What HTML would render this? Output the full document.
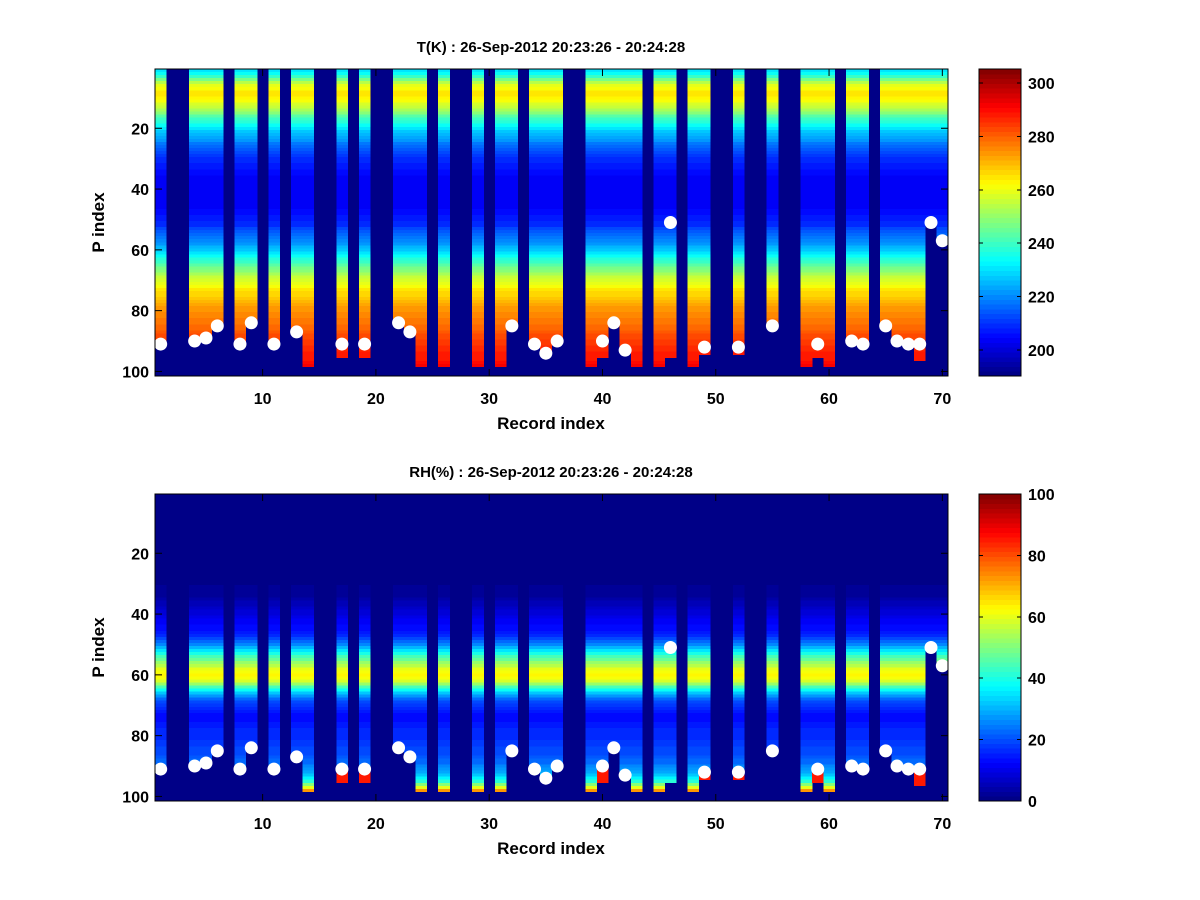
<!DOCTYPE html>
<html><head><meta charset="utf-8">
<style>
html,body{margin:0;padding:0;background:#fff;}
svg{display:block;font-family:"Liberation Sans",Arial,sans-serif;}
text{font-weight:bold;fill:#000;}
</style></head>
<body>
<svg id="fig" width="1200" height="900" viewBox="0 0 1200 900">
<rect width="1200" height="900" fill="#fff"/>
</svg>
<script>
// ---- data ----
const columns = [1,4,5,6,8,9,11,13,14,17,19,22,23,24,26,29,31,32,34,35,36,39,40,41,42,43,45,46,48,49,52,55,58,59,60,62,63,65,66,67,68,69,70];
const bottoms = [91,90,89,85,91,84,91,87,98,95,95,84,87,98,98,98,98,85,91,94,90,98,95,84,93,98,98,95,98,94,94,85,98,95,98,90,91,85,90,91,96,51,57];
const surfaceCols = [1,4,5,6,8,9,11,13,17,19,22,23,32,34,35,36,40,41,42,46,49,52,55,59,62,63,65,66,67,68,69,70];
const surfaceIdx = [91,90,89,85,91,84,91,87,91,91,84,87,85,91,94,90,90,84,93,51,92,92,85,91,90,91,85,90,91,91,51,57];
const tProfile = [230,234,240,247,254,259,262,264,264,263,
261,258,255,252,248,244,240,237,234,231,
228,225,223,221,219,217,215,213,211,210,
209,208,207,206,205,204,204,203,203,203,
203,203,203,203,204,204,205,206,207,208,
209,210,212,214,216,218,220,222,225,228,
231,234,237,240,243,246,249,252,255,258,
260,262,264,266,267,269,270,272,273,274,
275,276,277,278,279,280,281,282,283,284,
285,286,287,288,288,289,290,291,292,293];
const rhProfile = [1,1,1,1,1,1,1,1,1,1,1,1,1,1,1,1,1,1,1,1,1,1,1,1,1,1,1,1,1,1,
2,2,3,3,4,5,6,7,8,9,
10,11,12,13,14,15,17,19,22,26,
30,35,40,44,48,52,56,60,62,63,
62,58,52,45,38,32,27,23,20,18,
16,15,14,14,14,15,15,16,16,17,
17,18,18,19,19,20,21,22,23,25,
27,29,32,36,42,50,60,72,84,92];
const xTicks = [10,20,30,40,50,60,70];
const yTicks = [20,40,60,80,100];
const tBarTicks = [200,220,240,260,280,300];
const rhBarTicks = [0,20,40,60,80,100];

const NS = "http://www.w3.org/2000/svg";
const svg = document.getElementById('fig');
function mk(tag, attrs, parent){const e=document.createElementNS(NS,tag);for(const k in attrs)e.setAttribute(k,attrs[k]);(parent||svg).appendChild(e);return e;}

function jet(v){
  let i=Math.min(63,Math.max(0,Math.floor(v*64)));
  const x=(i+0.5)/64;
  const f=t=>Math.max(0,Math.min(1,t));
  const r=f(1.5-Math.abs(4*x-3)), g=f(1.5-Math.abs(4*x-2)), b=f(1.5-Math.abs(4*x-1));
  return `rgb(${Math.round(r*255)},${Math.round(g*255)},${Math.round(b*255)})`;
}

function panel(opts){
  const L=155,R=948,T=opts.top,B=opts.top+307;
  const xs=v=>L+(v-0.5)/70*(R-L);
  const ys=v=>T+(v-0.5)/101*(B-T);
  const g=mk('g',{'shape-rendering':'crispEdges'});
  
  
  const bg=mk('rect',{x:L,y:T,width:R-L,height:B-T,fill:jet(0)},g);
  
  
  const norm=v=>(v-opts.cmin)/(opts.cmax-opts.cmin);
  columns.forEach((c,ci)=>{
    const b=bottoms[ci];
    const si=surfaceCols.indexOf(c);
    const s=si>=0?surfaceIdx[si]:b;
    for(let p=1;p<=b;p++){
      let v=opts.profile[p-1];
      if(opts.name==='rh' && p>s && b-s<=6) v=85;
      const r=mk('rect',{x:xs(c-0.5),y:ys(p-0.5),width:xs(c+0.5)-xs(c-0.5)+0.3,height:ys(p+0.5)-ys(p-0.5)+0.3,fill:jet(norm(v))},g);
      
      
    }
  });
  surfaceCols.forEach((c,i)=>{
    const d=mk('circle',{cx:xs(c),cy:ys(surfaceIdx[i]),r:6.5,fill:'#fff'});
    
    
  });
  const frame=mk('rect',{x:L,y:T,width:R-L,height:B-T,fill:'none',stroke:'#000','stroke-width':1});
  
  
  xTicks.forEach(t=>{
    const x=xs(t);
    mk('line',{x1:x,y1:B,x2:x,y2:B-7,stroke:'#000'});
    mk('line',{x1:x,y1:T,x2:x,y2:T+7,stroke:'#000'});
    const tx=mk('text',{x:x,y:B+28,'text-anchor':'middle','font-size':16});
    tx.textContent=t;
    
    
  });
  yTicks.forEach(t=>{
    const y=ys(t);
    mk('line',{x1:L,y1:y,x2:L+7,y2:y,stroke:'#000'});
    mk('line',{x1:R,y1:y,x2:R-7,y2:y,stroke:'#000'});
    const tx=mk('text',{x:L-6,y:y+6,'text-anchor':'end','font-size':16});
    tx.textContent=t;
    
    
  });
  const title=mk('text',{x:551,y:T-17,'text-anchor':'middle','font-size':15});
  title.textContent=opts.title;
  
  
  const xl=mk('text',{x:551,y:B+53,'text-anchor':'middle','font-size':17});
  xl.textContent='Record index';
  
  
  const yl=mk('text',{x:104,y:(T+B)/2,'text-anchor':'middle','font-size':17,transform:`rotate(-90 104 ${(T+B)/2})`});
  yl.textContent='P index';
  
  
  const cL=979,cR=1021;
  const cb=mk('g',{'shape-rendering':'crispEdges'});
  
  
  for(let i=0;i<64;i++){
    const y0=B-(i+1)/64*(B-T), y1=B-i/64*(B-T);
    mk('rect',{x:cL,y:y0,width:cR-cL,height:y1-y0+0.5,fill:jet((i+0.5)/64)},cb);
  }
  mk('rect',{x:cL,y:T,width:cR-cL,height:B-T,fill:'none',stroke:'#000'},cb);
  opts.barTicks.forEach(t=>{
    const y=B-(t-opts.cmin)/(opts.cmax-opts.cmin)*(B-T);
    mk('line',{x1:cL,y1:y,x2:cL+4,y2:y,stroke:'#000'},cb);
    mk('line',{x1:cR,y1:y,x2:cR-4,y2:y,stroke:'#000'},cb);
    const tx=mk('text',{x:cR+7,y:y+6,'font-size':16});
    tx.textContent=t;
    
    
  });
}
panel({name:'t',top:69,profile:tProfile,cmin:190.3,cmax:305.2,barTicks:tBarTicks,title:'T(K) : 26-Sep-2012 20:23:26 - 20:24:28'});
panel({name:'rh',top:494,profile:rhProfile,cmin:0,cmax:100,barTicks:rhBarTicks,title:'RH(%) : 26-Sep-2012 20:23:26 - 20:24:28'});
</script>
</body></html>
